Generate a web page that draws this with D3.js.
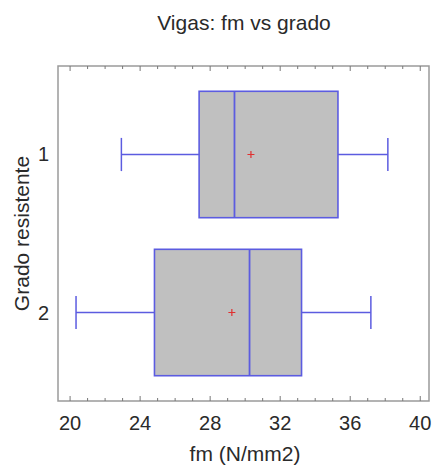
<!DOCTYPE html>
<html>
<head>
<meta charset="utf-8">
<script src="https://cdn.jsdelivr.net/npm/d3@7"></script>
<style>
  html, body { margin: 0; padding: 0; background: #fff; }
  svg { display: block; font-family: "Liberation Sans", Arial, sans-serif; }
</style>
</head>
<body>
<svg id="chart" width="432" height="468"></svg>
<script>
// Box-and-whisker summary of fm by strength grade
const grades     = ["1", "2"];
const whiskerLow = [22.93, 20.34];
const q1         = [27.37, 24.82];
const medians    = [29.39, 30.25];
const q3         = [35.30, 33.22];
const whiskerHigh= [38.15, 37.18];
const means      = [30.33, 29.24];
const xTicks     = [20, 24, 28, 32, 36, 40];

const title  = "Vigas: fm vs grado";
const xTitle = "fm (N/mm2)";
const yTitle = "Grado resistente";

const svg = d3.select("#chart");
const plot = { left: 58, right: 429, top: 66, bottom: 401 };

const x = d3.scaleLinear().domain([19.31, 40.5]).range([plot.left, plot.right]);
const y = d3.scalePoint().domain(grades).range([plot.top, plot.bottom]).padding(0.56);
const step = y.step();
const boxH = step * 0.8;
const capH = step * 0.21;

const boxStroke = "#5c5ce0";
const frameColor = "#9a9a9a";
const textColor = "#2a2a2a";

// Frame
svg.append("rect")
  .attr("x", plot.left).attr("y", plot.top)
  .attr("width", plot.right - plot.left).attr("height", plot.bottom - plot.top)
  .attr("fill", "none").attr("stroke", frameColor).attr("stroke-width", 1.5);

// Inward ticks on bottom and top edges: major every 4, minor every 1
const minorTicks = d3.range(20, 41, 1);
const tickG = svg.append("g").attr("stroke", "#777").attr("stroke-width", 1);
minorTicks.forEach(v => {
  const len = xTicks.includes(v) ? 5 : 3;
  tickG.append("line")
    .attr("x1", x(v)).attr("x2", x(v))
    .attr("y1", plot.bottom).attr("y2", plot.bottom - len);
  tickG.append("line")
    .attr("x1", x(v)).attr("x2", x(v))
    .attr("y1", plot.top).attr("y2", plot.top + len);
});

// X tick labels
svg.append("g").selectAll("text").data(xTicks).join("text")
  .attr("x", d => x(d)).attr("y", 430)
  .attr("text-anchor", "middle")
  .attr("font-size", 20).attr("fill", textColor)
  .text(d => d);

// Y category labels
svg.append("g").selectAll("text").data(grades).join("text")
  .attr("x", 49).attr("y", d => y(d))
  .attr("dy", "0.35em")
  .attr("text-anchor", "end")
  .attr("font-size", 20).attr("fill", textColor)
  .text(d => d);

// Titles
svg.append("text")
  .attr("x", 244).attr("y", 30)
  .attr("text-anchor", "middle")
  .attr("font-size", 21).attr("fill", textColor)
  .text(title);

svg.append("text")
  .attr("x", 245).attr("y", 461)
  .attr("text-anchor", "middle")
  .attr("font-size", 21).attr("fill", textColor)
  .text(xTitle);

svg.append("text")
  .attr("transform", `translate(29, ${(plot.top + plot.bottom) / 2}) rotate(-90)`)
  .attr("text-anchor", "middle")
  .attr("font-size", 21).attr("fill", textColor)
  .text(yTitle);

// Boxes
const rows = grades.map((g, i) => ({
  g, lo: whiskerLow[i], q1: q1[i], med: medians[i], q3: q3[i], hi: whiskerHigh[i], mean: means[i]
}));

const boxes = svg.append("g").selectAll("g").data(rows).join("g");

// Whiskers
boxes.append("line")
  .attr("x1", d => x(d.lo)).attr("x2", d => x(d.q1))
  .attr("y1", d => y(d.g)).attr("y2", d => y(d.g))
  .attr("stroke", boxStroke).attr("stroke-width", 1.5);
boxes.append("line")
  .attr("x1", d => x(d.q3)).attr("x2", d => x(d.hi))
  .attr("y1", d => y(d.g)).attr("y2", d => y(d.g))
  .attr("stroke", boxStroke).attr("stroke-width", 1.5);
boxes.append("line")
  .attr("x1", d => x(d.lo)).attr("x2", d => x(d.lo))
  .attr("y1", d => y(d.g) - capH / 2).attr("y2", d => y(d.g) + capH / 2)
  .attr("stroke", boxStroke).attr("stroke-width", 1.5);
boxes.append("line")
  .attr("x1", d => x(d.hi)).attr("x2", d => x(d.hi))
  .attr("y1", d => y(d.g) - capH / 2).attr("y2", d => y(d.g) + capH / 2)
  .attr("stroke", boxStroke).attr("stroke-width", 1.5);

// Box body
boxes.append("rect")
  .attr("x", d => x(d.q1)).attr("width", d => x(d.q3) - x(d.q1))
  .attr("y", d => y(d.g) - boxH / 2).attr("height", boxH)
  .attr("fill", "#c0c0c0").attr("stroke", boxStroke).attr("stroke-width", 1.6);

// Median
boxes.append("line")
  .attr("x1", d => x(d.med)).attr("x2", d => x(d.med))
  .attr("y1", d => y(d.g) - boxH / 2).attr("y2", d => y(d.g) + boxH / 2)
  .attr("stroke", boxStroke).attr("stroke-width", 1.8);

// Mean marker
const m = 3.5;
boxes.append("path")
  .attr("d", d => `M${x(d.mean) - m},${y(d.g)}H${x(d.mean) + m}M${x(d.mean)},${y(d.g) - m}V${y(d.g) + m}`)
  .attr("stroke", "#e03030").attr("stroke-width", 1.2).attr("fill", "none");
</script>
</body>
</html>
